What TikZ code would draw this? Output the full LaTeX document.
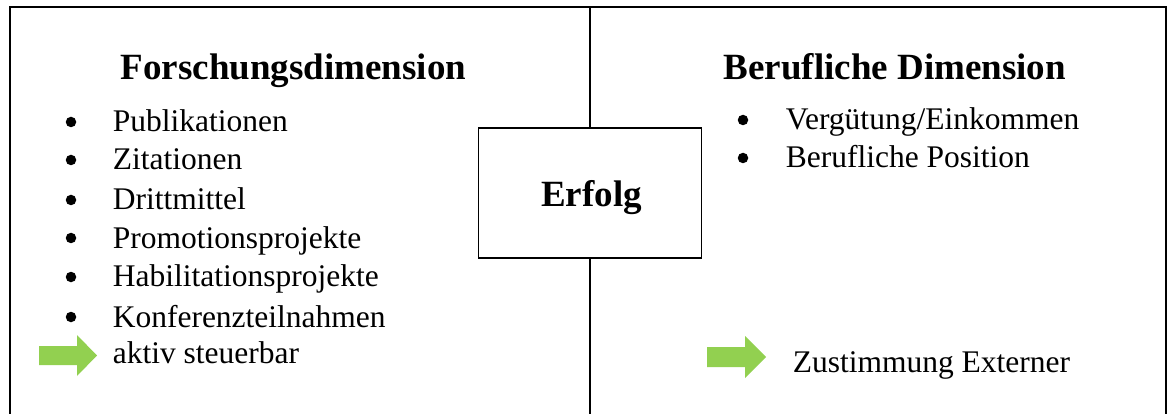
\documentclass[tikz,border=0pt]{standalone}
\usepackage{fontspec}
\setmainfont{Liberation Serif}
\definecolor{arrowgreen}{RGB}{146,208,80}
\tikzset{
  title/.style={anchor=base west, font=\fontsize{37}{40}\selectfont\bfseries, inner sep=0pt},
  item/.style={anchor=base west, font=\fontsize{31.5}{36}\selectfont, inner sep=0pt},
  dot/.style={circle, fill, draw=none, minimum size=10.5pt, inner sep=0pt},
}
\begin{document}
\begin{tikzpicture}[x=1pt, y=-1pt, line width=1.6pt]
  \useasboundingbox (0,0) rectangle (1170,414);
  % frame, open at the bottom
  \draw (10,414) -- (10,7) -- (1166,7) -- (1166,414);
  \node[draw, minimum width=223pt, minimum height=130pt, inner sep=0pt] (erfolg) at (590,193) {};
  \node[anchor=base, font=\fontsize{37}{40}\selectfont\bfseries, inner sep=0pt] (erfolgtext) at (591.5,207) {Erfolg};
  \coordinate (top) at (590,7);
  \coordinate (bottom) at (590,414);
  \draw (top) -- (erfolg.north);
  \draw (erfolg.south) -- (bottom);

  % left column
  \node[title] (forschung) at (120,80) {Forschungsdimension};
  \node[dot] (d1) at (71,122) {};
  \node[item] (publ) at (112,132) {Publikationen};
  \node[dot] (d2) at (71,160) {};
  \node[item] (zit) at (112,170) {Zitationen};
  \node[dot] (d3) at (71,200) {};
  \node[item] (dritt) at (112,210) {Drittmittel};
  \node[dot] (d4) at (71,238) {};
  \node[item] (prom) at (112,248) {Promotionsprojekte};
  \node[dot] (d5) at (71,277) {};
  \node[item] (habil) at (112,287) {Habilitationsprojekte};
  \node[dot] (d6) at (71,317) {};
  \node[item] (konf) at (112,327) {Konferenzteilnahmen};
  \fill[arrowgreen] (39,346) -- (77,346) -- (77,335) -- (97,355.5) -- (77,376) -- (77,365) -- (39,365) -- cycle;
  \node[item] (aktiv) at (112,363) {aktiv steuerbar};

  % right column
  \node[title] (beruf) at (723,80) {Berufliche Dimension};
  \node[dot] (d7) at (743,120) {};
  \node[item] (verg) at (785,130) {Vergütung/Einkommen};
  \node[dot] (d8) at (743,158) {};
  \node[item] (pos) at (785,168) {Berufliche Position};
  \fill[arrowgreen] (707,347) -- (745,347) -- (745,336) -- (766,357) -- (745,378) -- (745,367) -- (707,367) -- cycle;
  \node[item] (zust) at (792,372) {Zustimmung Externer};
\end{tikzpicture}
\end{document}
